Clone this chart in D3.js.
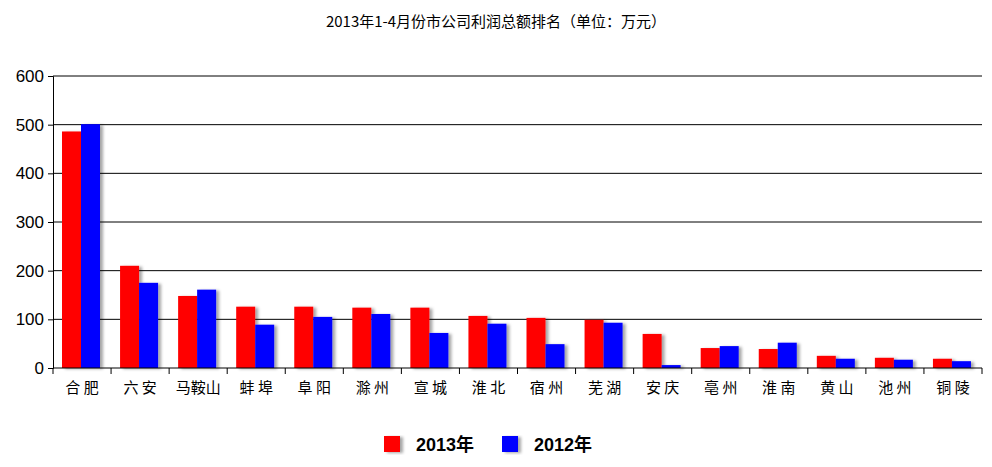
<!DOCTYPE html>
<html><head><meta charset="utf-8">
<script src="https://cdn.jsdelivr.net/npm/d3@7"></script>
<style>body{margin:0;background:#fff;font-family:"Liberation Sans",Arial,sans-serif}</style>
</head><body><div id="chart"></div>
<script>
const cities = ['合肥','六安','马鞍山','蚌埠','阜阳','滁州','宣城','淮北','宿州','芜湖','安庆','亳州','淮南','黄山','池州','铜陵'];
const labels = ['合 肥','六 安','马鞍山','蚌 埠','阜 阳','滁 州','宣 城','淮 北','宿 州','芜 湖','安 庆','亳 州','淮 南','黄 山','池 州','铜 陵'];
const v2013 = [486,210,148,126,126,124,124,107,103,99,70,41,39,25,21,19];
const v2012 = [501,175,161,89,105,111,72,91,49,93,6,45,52,19,17,14];
const yTicks = [0,100,200,300,400,500,600];

const W = 992, H = 467;
const svg = d3.select('#chart').append('svg').attr('width', W).attr('height', H);
const defs = svg.append('defs');
const f = defs.append('filter').attr('id','sh').attr('x','-20%').attr('y','-5%').attr('width','160%').attr('height','120%');
f.append('feDropShadow').attr('dx',3).attr('dy',1).attr('stdDeviation',1.5).attr('flood-color','#000').attr('flood-opacity',0.35);

const x = d3.scaleBand().domain(cities).range([53, 982]).paddingInner(0).paddingOuter(0);
const y = d3.scaleLinear().domain([0,600]).range([368, 76]);

svg.append('text').attr('x', W/2).attr('y', 27).attr('text-anchor','middle')
  .style('font-size','15px').style('font-family','"Noto Sans CJK SC","Liberation Sans",sans-serif')
  .text('2013年1-4月份市公司利润总额排名（单位：万元）');

// grid
svg.append('g').selectAll('line').data(yTicks.filter(d => d > 0)).join('line')
  .attr('x1', 53).attr('x2', 982).attr('y1', d => y(d)).attr('y2', d => y(d))
  .attr('stroke', '#000').attr('stroke-width', 1);

const bw = 19, off = 9;
const g = svg.append('g').attr('filter','url(#sh)');
g.selectAll('.b13').data(cities).join('rect')
  .attr('x', (c) => x(c) + off).attr('width', bw)
  .attr('y', (c,i) => y(v2013[i])).attr('height', (c,i) => y(0) - y(v2013[i])).attr('fill', '#ff0000');
g.selectAll('.b12').data(cities).join('rect')
  .attr('x', (c) => x(c) + off + bw).attr('width', bw)
  .attr('y', (c,i) => y(v2012[i])).attr('height', (c,i) => y(0) - y(v2012[i])).attr('fill', '#0000ff');

// y axis
const ya = svg.append('g').attr('transform','translate(53,0)')
  .call(d3.axisLeft(y).tickValues(yTicks).tickSize(5).tickPadding(4));
ya.select('.domain').attr('stroke','#000');
ya.selectAll('text').style('font-size','17px').style('font-family','"Liberation Sans",Arial,sans-serif').attr('fill','#000');

// x axis
const xa = svg.append('g').attr('transform','translate(0,368)');
xa.append('line').attr('x1', 53).attr('x2', 982).attr('stroke','#000');
xa.selectAll('.tk').data(cities.concat(['_end'])).join('line')
  .attr('x1', (c,i) => i < cities.length ? x(c) : 982).attr('x2', (c,i) => i < cities.length ? x(c) : 982)
  .attr('y1', 0).attr('y2', 6).attr('stroke','#000');
xa.selectAll('text').data(cities).join('text')
  .attr('x', c => x(c) + x.bandwidth()/2).attr('y', 25).attr('text-anchor','middle')
  .style('font-size','15px').style('font-family','"Noto Sans CJK SC",sans-serif')
  .text((c,i) => labels[i]);

// legend
const leg = svg.append('g').style('font-family','"Liberation Sans","Noto Sans CJK SC",sans-serif');
[['2013年','#ff0000',384],['2012年','#0000ff',502]].forEach(([t,c,lx]) => {
  leg.append('rect').attr('x', lx).attr('y', 436).attr('width', 16).attr('height', 16).attr('fill', c).attr('filter','url(#sh)');
  leg.append('text').attr('x', lx + 32).attr('y', 451).style('font-size','18px').style('font-weight','bold').text(t);
});
</script></body></html>
